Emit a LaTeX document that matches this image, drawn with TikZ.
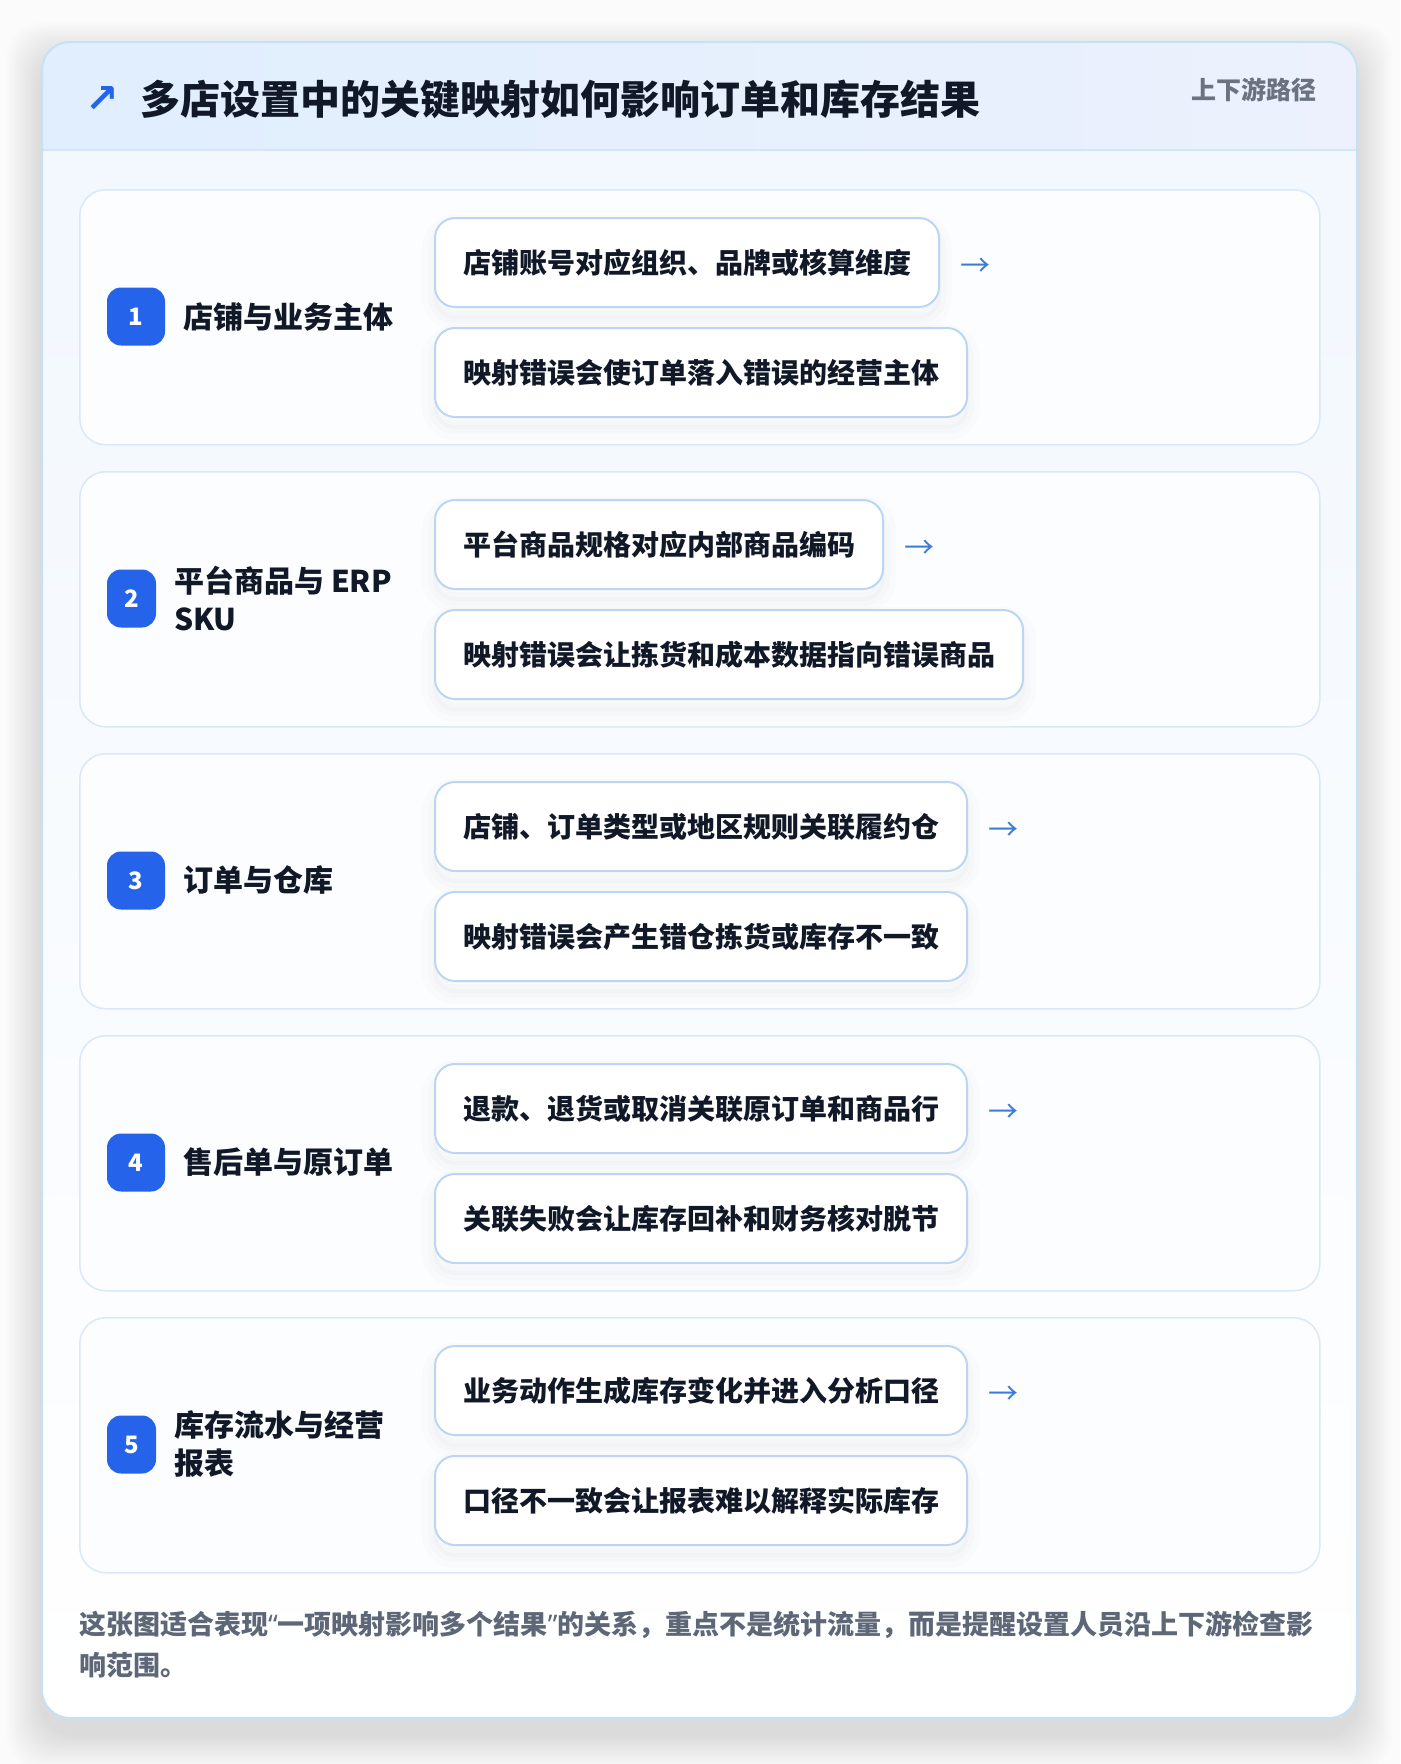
\documentclass[tikz,border=0pt]{standalone}
\usepackage{fontspec}
\setmainfont{Noto Sans CJK SC}
\newfontfamily\symf{DejaVu Sans}
\newfontfamily\latf{Noto Sans}
\usetikzlibrary{calc}

\definecolor{pagebg}{HTML}{FBFBFC}
\definecolor{cardline}{HTML}{C5E1F6}
\definecolor{headL}{HTML}{E0EEFD}
\definecolor{headR}{HTML}{ECF1FD}
\definecolor{headline}{HTML}{D4E5F8}
\definecolor{bodytop}{HTML}{F1F7FE}
\definecolor{bodybot}{HTML}{FFFFFF}
\definecolor{rowline}{HTML}{DAE8F8}
\definecolor{rowfill}{HTML}{FCFDFF}
\definecolor{badgec}{HTML}{2563EB}
\definecolor{ink}{HTML}{111827}
\definecolor{boxline}{HTML}{BDD5F4}
\definecolor{arrc}{HTML}{3B7BDD}
\definecolor{muted}{HTML}{5E6778}
\definecolor{tagc}{HTML}{6B7280}

\tikzset{
  rowcard/.style={draw=rowline, line width=1.5pt, fill=rowfill, rounded corners=26pt,
    minimum width=1240pt, minimum height=255pt, anchor=north west, inner sep=0pt},
  badge/.style={fill=badgec, rounded corners=14pt, minimum height=58pt, text=white,
    font=\fontsize{24}{24}\selectfont\bfseries, inner sep=0pt},
  rowlabel/.style={anchor=west, text=ink, font=\fontsize{30}{38}\selectfont\bfseries,
    align=left, inner sep=0pt},
  mbox/.style={draw=boxline, line width=2pt, fill=white, rounded corners=20pt,
    minimum height=89pt, inner xsep=28pt, inner ysep=0pt, anchor=north west, text=ink,
    font=\fontsize{28}{28}\selectfont\bfseries,
    preaction={draw=black, draw opacity=0.010, line width=26pt, transform canvas={yshift=-10pt}},
    preaction={draw=black, draw opacity=0.012, line width=14pt, transform canvas={yshift=-10pt}},
    preaction={draw=black, draw opacity=0.014, line width=4pt, transform canvas={yshift=-10pt}}},
  arrowtxt/.style={anchor=west, text=arrc, font=\fontsize{30}{30}\selectfont, inner sep=0pt},
}

\begin{document}
\begin{tikzpicture}[x=1pt,y=-1pt]
\useasboundingbox (0,0) rectangle (1400,1764);
\fill[pagebg] (0,0) rectangle (1400,1764);

% outer card shadow
\foreach \i in {1,...,16} {
  \fill[black, fill opacity=0.0065, rounded corners=34pt]
    ({42-2.2*\i},{42-2.2*\i+16}) rectangle ({1357+2.2*\i},{1718+2.2*\i+16});
}

% card body
\shade[top color=bodytop, bottom color=bodybot, rounded corners=28pt]
  (42,42) rectangle (1357,1718);
\begin{scope}
  \clip[rounded corners=28pt] (42,42) rectangle (1357,1718);
  \shade[left color=headL, right color=headR] (42,42) rectangle (1357,150);
  \draw[headline, line width=2pt] (42,150) -- (1357,150);
\end{scope}
\draw[cardline, line width=2pt, rounded corners=28pt] (42,42) rectangle (1357,1718);

% header
\node[text=badgec, font=\symf\fontsize{40}{40}\selectfont\bfseries, inner sep=0pt] (hicon) at (102,100) {↗};
\node[anchor=west, text=ink, font=\fontsize{40}{40}\selectfont\bfseries, inner sep=0pt] (title) at (140,99)
  {多店设置中的关键映射如何影响订单和库存结果};
\node[anchor=east, text=tagc, font=\fontsize{25}{25}\selectfont\bfseries, inner sep=0pt] (tag) at (1317,90)
  {上下游路径};

% row 1
\node[rowcard] (r1) at (79,189) {};
\node[badge, minimum width=58pt] (b1) at (136,316.5) {1};
\node[rowlabel] (l1) at (183,316.5) {店铺与业务主体};
\node[mbox] (m1a) at (434,217) {店铺账号对应组织、品牌或核算维度};
\node[mbox] (m1b) at (434,327) {映射错误会使订单落入错误的经营主体};
\node[arrowtxt] (a1) at ($(m1a.east)+(20,5)$) {→};

% row 2
\node[rowcard] (r2) at (79,471) {};
\node[badge, minimum width=49pt] (b2) at (131.5,598.5) {2};
\node[rowlabel] (l2) at (174,598.5) {平台商品与 ERP\\SKU};
\node[mbox] (m2a) at (434,499) {平台商品规格对应内部商品编码};
\node[mbox] (m2b) at (434,609) {映射错误会让拣货和成本数据指向错误商品};
\node[arrowtxt] (a2) at ($(m2a.east)+(20,5)$) {→};

% row 3
\node[rowcard] (r3) at (79,753) {};
\node[badge, minimum width=58pt] (b3) at (136,880.5) {3};
\node[rowlabel] (l3) at (183,880.5) {订单与仓库};
\node[mbox] (m3a) at (434,781) {店铺、订单类型或地区规则关联履约仓};
\node[mbox] (m3b) at (434,891) {映射错误会产生错仓拣货或库存不一致};
\node[arrowtxt] (a3) at ($(m3a.east)+(20,5)$) {→};

% row 4
\node[rowcard] (r4) at (79,1035) {};
\node[badge, minimum width=58pt] (b4) at (136,1162.5) {4};
\node[rowlabel] (l4) at (183,1162.5) {售后单与原订单};
\node[mbox] (m4a) at (434,1063) {退款、退货或取消关联原订单和商品行};
\node[mbox] (m4b) at (434,1173) {关联失败会让库存回补和财务核对脱节};
\node[arrowtxt] (a4) at ($(m4a.east)+(20,5)$) {→};

% row 5
\node[rowcard] (r5) at (79,1317) {};
\node[badge, minimum width=49pt] (b5) at (131.5,1444.5) {5};
\node[rowlabel] (l5) at (174,1444.5) {库存流水与经营\\报表};
\node[mbox] (m5a) at (434,1345) {业务动作生成库存变化并进入分析口径};
\node[mbox] (m5b) at (434,1455) {口径不一致会让报表难以解释实际库存};
\node[arrowtxt] (a5) at ($(m5a.east)+(20,5)$) {→};

% footer
\node[anchor=west, text=muted, font=\fontsize{27}{41}\selectfont\bfseries, align=left, inner sep=0pt] (foot) at (79,1645)
  {这张图适合表现{\latf\bfseries “}一项映射影响多个结果{\latf\bfseries ”}的关系，重点不是统计流量，而是提醒设置人员沿上下游检查影\\响范围。};
\end{tikzpicture}
\end{document}
